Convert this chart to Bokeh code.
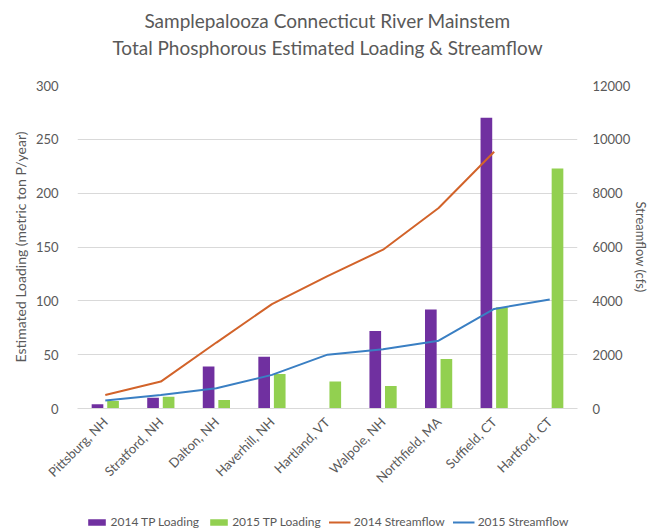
import math
from bokeh.plotting import figure
from bokeh.layouts import column
from bokeh.models import (ColumnDataSource, FactorRange, Range1d, LinearAxis,
                          Legend, LegendItem, FixedTicker, Label)
from bokeh.transform import dodge
from bokeh.embed import file_html
from bokeh.resources import INLINE

NAN = float("nan")

title_lines = ["Samplepalooza Connecticut River Mainstem",
               "Total Phosphorous Estimated Loading & Streamflow"]
sites = ["Pittsburg, NH", "Stratford, NH", "Dalton, NH", "Haverhill, NH",
         "Hartland, VT", "Walpole, NH", "Northfield, MA", "Suffield, CT",
         "Hartford, CT"]
tp_2014 = [4, 10, 39, 48, NAN, 72, 92, 270, NAN]
tp_2015 = [7, 11, 8, 32, 25, 21, 46, 94, 223]
flow_2014 = [500, 1000, 2450, 3880, 4920, 5900, 7450, 9540, NAN]
flow_2015 = [300, 500, 750, 1250, 2000, 2200, 2520, 3700, 4050]

left_ticks = [0, 50, 100, 150, 200, 250, 300]
right_ticks = [0, 2000, 4000, 6000, 8000, 10000, 12000]

C_PURPLE = "#7030A0"
C_GREEN = "#92D050"
C_ORANGE = "#D2632A"
C_BLUE = "#3A7FC3"
TXT = "#595959"
FONT = "Lato"

# ---- title strip ----
tfig = figure(width=652, height=60, x_range=Range1d(0, 1), y_range=Range1d(0, 1),
              output_backend="svg", toolbar_location=None, title=None,
              x_axis_location=None, y_axis_location=None,
              min_border_left=0, min_border_right=0, min_border_top=0,
              min_border_bottom=0)
tfig.grid.visible = False
tfig.outline_line_color = None
for txt, ys in zip(title_lines, [40, 13]):
    tfig.add_layout(Label(x=0.5, y=ys, x_units="data", y_units="screen",
                          text=txt, text_align="center", text_baseline="middle",
                          text_font=FONT, text_font_size="19px",
                          text_color=TXT))

# ---- main chart ----
src = ColumnDataSource(dict(site=sites, tp14=tp_2014, tp15=tp_2015,
                            f14=flow_2014, f15=flow_2015))

p = figure(width=652, height=434, x_range=FactorRange(*sites, range_padding=0),
           y_range=Range1d(0, 300), output_backend="svg", toolbar_location=None,
           title=None, min_border_left=77, min_border_right=74,
           min_border_top=25, min_border_bottom=84)
p.extra_y_ranges = {"flow": Range1d(0, 12000)}

b14 = p.vbar(x=dodge("site", -0.14, range=p.x_range), top="tp14", width=0.21,
             source=src, fill_color=C_PURPLE, line_color=None)
b15 = p.vbar(x=dodge("site", 0.14, range=p.x_range), top="tp15", width=0.21,
             source=src, fill_color=C_GREEN, line_color=None)
l14 = p.line(x="site", y="f14", source=src, y_range_name="flow",
             line_color=C_ORANGE, line_width=2)
l15 = p.line(x="site", y="f15", source=src, y_range_name="flow",
             line_color=C_BLUE, line_width=2)

p.outline_line_color = None
p.background_fill_color = "white"
p.border_fill_color = "white"
p.xgrid.grid_line_color = None
p.ygrid.grid_line_color = "#D9D9D9"
p.ygrid.grid_line_width = 1
p.yaxis.ticker = FixedTicker(ticks=left_ticks)

for ax in p.yaxis:
    ax.axis_line_color = None
    ax.major_tick_line_color = None
    ax.minor_tick_line_color = None
    ax.major_label_text_font = FONT
    ax.major_label_text_font_size = "13px"
    ax.major_label_text_color = TXT
    ax.major_label_standoff = 13
    ax.axis_label = "Estimated Loading (metric ton P/year)"
    ax.axis_label_text_font = FONT
    ax.axis_label_text_font_size = "14px"
    ax.axis_label_text_font_style = "normal"
    ax.axis_label_text_color = TXT
    ax.axis_label_standoff = 4

ra = LinearAxis(y_range_name="flow", ticker=FixedTicker(ticks=right_ticks))
ra.axis_line_color = None
ra.major_tick_line_color = None
ra.minor_tick_line_color = None
ra.major_label_text_font = FONT
ra.major_label_text_font_size = "13px"
ra.major_label_text_color = TXT
ra.major_label_standoff = 9
ra.axis_label = "Streamflow (cfs)"
ra.axis_label_text_font = FONT
ra.axis_label_text_font_size = "13px"
ra.axis_label_text_font_style = "normal"
ra.axis_label_text_color = TXT
ra.axis_label_standoff = 0
p.add_layout(ra, "right")

for ax in p.xaxis:
    ax.axis_line_color = "#D9D9D9"
    ax.major_tick_line_color = None
    ax.minor_tick_line_color = None
    ax.major_label_orientation = math.pi / 4
    ax.major_label_text_font = FONT
    ax.major_label_text_font_size = "13px"
    ax.major_label_text_color = TXT
    ax.major_label_standoff = 5

# ---- legend strip ----
lg = figure(width=652, height=35, x_range=Range1d(0, 1), y_range=Range1d(0, 1),
            output_backend="svg", toolbar_location=None, title=None,
            x_axis_location=None, y_axis_location=None,
            min_border_left=0, min_border_right=0, min_border_top=0,
            min_border_bottom=0)
lg.grid.visible = False
lg.outline_line_color = None
r1 = lg.vbar(x=[NAN], top=[NAN], width=0.1, fill_color=C_PURPLE, line_color=None)
r2 = lg.vbar(x=[NAN], top=[NAN], width=0.1, fill_color=C_GREEN, line_color=None)
r3 = lg.line(x=[NAN], y=[NAN], line_color=C_ORANGE, line_width=2)
r4 = lg.line(x=[NAN], y=[NAN], line_color=C_BLUE, line_width=2)

legend = Legend(items=[
    LegendItem(label="2014 TP Loading", renderers=[r1]),
    LegendItem(label="2015 TP Loading", renderers=[r2]),
    LegendItem(label="2014 Streamflow", renderers=[r3]),
    LegendItem(label="2015 Streamflow", renderers=[r4]),
], orientation="horizontal", location="bottom_center", padding=0, margin=0,
    spacing=8, glyph_width=22, glyph_height=8, label_height=14,
    label_standoff=3, label_text_font=FONT, label_text_font_size="12px",
    label_text_color=TXT, background_fill_alpha=0, border_line_color=None)
lg.add_layout(legend, "center")

layout = column(tfig, p, lg, spacing=0)
open("out.html", "w").write(file_html(layout, INLINE))
